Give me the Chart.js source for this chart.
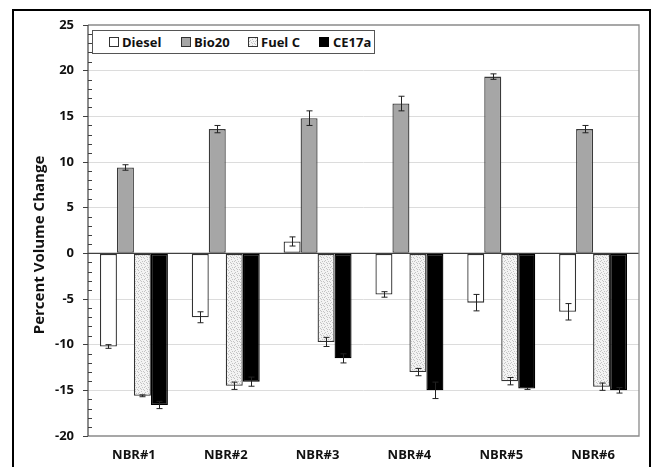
<!DOCTYPE html>
<html><head><meta charset="utf-8">
<script src="https://cdn.jsdelivr.net/npm/chart.js@4.4.1/dist/chart.umd.min.js"></script>
<style>
html,body{margin:0;padding:0;background:#fff;}
#wrap{position:relative;width:652px;height:467px;overflow:hidden;}
#legend{position:absolute;left:92px;top:30px;width:281px;height:22px;border:1px solid #555;background:#fff;font:bold 13px "Open Sans", sans-serif;color:#111;}
.sw{position:absolute;width:8px;height:8px;border:1px solid #333;top:6px;}
.lt{position:absolute;top:0;height:22px;line-height:22px;white-space:nowrap;}
</style></head>
<body>
<div id="wrap"><canvas id="c" width="652" height="467"></canvas><div id="legend"></div></div>
<script>
const categories = ['NBR#1','NBR#2','NBR#3','NBR#4','NBR#5','NBR#6'];
const seriesNames = ['Diesel','Bio20','Fuel C','CE17a'];
const diesel    = [-10.2, -7.0,  1.3,  -4.5,  -5.4,  -6.4];
const dieselErr = [0.2, 0.6, 0.5, 0.3, 0.9, 0.9];
const bio20     = [9.4, 13.6, 14.8, 16.4, 19.35, 13.6];
const bio20Err  = [0.3, 0.4, 0.8, 0.8, 0.3, 0.4];
const fuelC     = [-15.6, -14.5, -9.7, -13.0, -14.0, -14.6];
const fuelCErr  = [0.1, 0.4, 0.5, 0.4, 0.4, 0.4];
const ce17a     = [-16.6, -14.05, -11.5, -15.0, -14.8, -15.0];
const ce17aErr  = [0.4, 0.5, 0.5, 0.9, 0.1, 0.3];
const yTicks = { min: -20, max: 25, step: 5 };
const yTitle = 'Percent Volume Change';
const FONT = '"Open Sans", sans-serif';

function makePattern(){
  const c=document.createElement('canvas'); c.width=6; c.height=6;
  const x=c.getContext('2d');
  x.fillStyle='#f3f3f3'; x.fillRect(0,0,6,6);
  x.fillStyle='#c4c4c4';
  [[0,0],[3,1],[1,2],[4,3],[2,4],[5,5],[0,3],[3,5]].forEach(p=>x.fillRect(p[0],p[1],1,1));
  return c;
}
const patCanvas = makePattern();
const ctx0 = document.getElementById('c').getContext('2d');
const fuelPattern = ctx0.createPattern(patCanvas,'repeat');

const fills = ['#ffffff','#a6a6a6',fuelPattern,'#000000'];
const borders = ['#333333','#3a3a3a','#333333','#000000'];
const values = [diesel,bio20,fuelC,ce17a];
const errs = [dieselErr,bio20Err,fuelCErr,ce17aErr];

const datasets = seriesNames.map((n,i)=>({
  label:n, data:values[i], errors:errs[i],
  backgroundColor:fills[i], borderColor:borders[i], borderWidth:1.3,
  categoryPercentage:0.74, barPercentage:1.0, borderSkipped:false
}));

// legend (HTML)
const lg=document.getElementById('legend');
const swX=[16,88,155,226], txX=[29,101,168,240];
seriesNames.forEach((n,i)=>{
  const s=document.createElement('div'); s.className='sw'; s.style.left=swX[i]+'px';
  if(i===2){ s.style.backgroundImage='url('+patCanvas.toDataURL()+')'; }
  else s.style.background=fills[i];
  s.style.borderColor = i===3 ? '#000' : '#333';
  lg.appendChild(s);
  const t=document.createElement('div'); t.className='lt'; t.style.left=txX[i]+'px'; t.textContent=n;
  lg.appendChild(t);
});

const extras = {
  id:'extras',
  beforeDraw(chart){
    const c=chart.ctx;
    c.save(); c.fillStyle='#fff'; c.fillRect(0,0,chart.width,chart.height); c.restore();
  },
  beforeDatasetsDraw(chart){
    const c=chart.ctx, a=chart.chartArea, ys=chart.scales.y;
    c.save();
    const y0=ys.getPixelForValue(0);
    c.strokeStyle='#404040'; c.lineWidth=1.3;
    c.beginPath(); c.moveTo(a.left,y0); c.lineTo(a.right,y0); c.stroke();
    c.restore();
  },
  afterDatasetsDraw(chart){
    const c=chart.ctx, ys=chart.scales.y, a=chart.chartArea;
    c.save();
    c.strokeStyle='#222'; c.lineWidth=1;
    chart.data.datasets.forEach((ds,di)=>{
      const meta=chart.getDatasetMeta(di);
      meta.data.forEach((el,i)=>{
        const v=ds.data[i], e=ds.errors[i];
        const x=Math.round(el.x)+0.5;
        const y1=ys.getPixelForValue(v+e), y2=ys.getPixelForValue(v-e);
        c.beginPath();
        c.moveTo(x,y1); c.lineTo(x,y2);
        c.moveTo(x-3,y1); c.lineTo(x+3,y1);
        c.moveTo(x-3,y2); c.lineTo(x+3,y2);
        c.stroke();
      });
    });
    c.strokeStyle='#8a8a8a'; c.lineWidth=1.3;
    c.beginPath(); c.moveTo(a.left,a.top); c.lineTo(a.right,a.top); c.lineTo(a.right,a.bottom); c.lineTo(a.left,a.bottom); c.stroke();
    c.strokeStyle='#404040'; c.lineWidth=1.2;
    c.beginPath(); c.moveTo(a.left,a.top); c.lineTo(a.left,a.bottom); c.stroke();
    c.lineWidth=1;
    for(let v=yTicks.min; v<=yTicks.max; v++){
      if(v%yTicks.step===0) continue;
      const y=Math.round(ys.getPixelForValue(v))+0.5;
      c.beginPath(); c.moveTo(a.left,y); c.lineTo(a.left+4,y); c.stroke();
    }
    c.fillStyle='#111'; c.font='bold 15px '+FONT;
    c.textAlign='center'; c.textBaseline='middle';
    c.translate(40,245); c.rotate(-Math.PI/2); c.fillText(yTitle,0,0);
    c.restore();
    c.save(); c.strokeStyle='#000'; c.lineWidth=2;
    c.strokeRect(13,10,637,470); c.restore();
  }
};

new Chart(ctx0,{
  type:'bar',
  data:{labels:categories, datasets},
  options:{
    responsive:false, animation:false,
    layout:{padding:{left:0,top:25,right:13,bottom:0}},
    plugins:{legend:{display:false}, tooltip:{enabled:false}},
    scales:{
      x:{
        grid:{display:false, drawTicks:false},
        border:{display:false},
        ticks:{font:{family:FONT,weight:'bold',size:13}, color:'#111', padding:11, maxRotation:0},
        afterFit(s){ s.height=31; }
      },
      y:{
        min:yTicks.min, max:yTicks.max,
        ticks:{stepSize:yTicks.step, font:{family:FONT,weight:'bold',size:13}, color:'#111', padding:9},
        grid:{
          color:(c)=> (c.tick && (c.tick.value===0 || c.tick.value===yTicks.min || c.tick.value===yTicks.max)) ? 'rgba(0,0,0,0)' : '#dcdcdc',
          lineWidth:1, tickColor:'#404040', tickLength:5, drawTicks:true
        },
        border:{display:false},
        afterFit(s){ s.width=88; }
      }
    }
  },
  plugins:[extras]
});
</script>
</body></html>
